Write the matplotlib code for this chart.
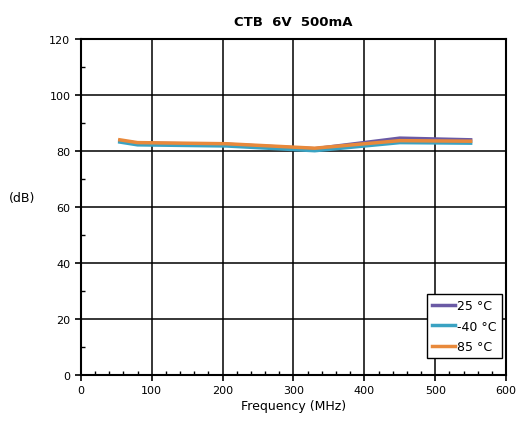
import numpy as np
import matplotlib.pyplot as plt
from matplotlib.ticker import MultipleLocator

freq = [55, 80, 205, 330, 450, 550]
ctb_25 = [83.6, 82.8, 82.4, 80.8, 84.6, 84.0]
ctb_m40 = [83.2, 82.2, 81.8, 80.1, 83.0, 82.8]
ctb_85 = [84.0, 83.0, 82.6, 81.0, 83.7, 83.5]

fig = plt.figure(figsize=(5.18, 4.31), dpi=100)
ax = fig.add_axes([0.156, 0.128, 0.821, 0.779])

ax.plot(freq, ctb_25, color='#6a5aa5', lw=2.5, label='25 \u00b0C')
ax.plot(freq, ctb_m40, color='#3aa2c2', lw=2.5, label='-40 \u00b0C')
ax.plot(freq, ctb_85, color='#e8893b', lw=2.5, label='85 \u00b0C')

ax.set_xlim(0, 600)
ax.set_ylim(0, 120)
ax.xaxis.set_major_locator(MultipleLocator(100))
ax.xaxis.set_minor_locator(MultipleLocator(20))
ax.yaxis.set_major_locator(MultipleLocator(20))
ax.yaxis.set_minor_locator(MultipleLocator(10))
ax.tick_params(which='major', direction='out', length=4, width=1.2, labelsize=8, color='black')
ax.tick_params(which='minor', direction='in', length=3, width=1.0)
ax.grid(which='major', color='black', lw=1.1)
for s in ax.spines.values():
    s.set_linewidth(1.5)

ax.set_title('CTB  6V  500mA', fontsize=9.5, fontweight='bold', pad=10)
ax.set_xlabel('Frequency (MHz)', fontsize=9, labelpad=3)
fig.text(0.042, 0.54, '(dB)', fontsize=9, ha='center', va='center')

leg = ax.legend(loc='lower right', bbox_to_anchor=(0.99, 0.05), fontsize=9, frameon=True,
                fancybox=False, edgecolor='black', handlelength=1.8, handletextpad=0.2,
                borderpad=0.4, labelspacing=0.6, borderaxespad=0)
leg.get_frame().set_linewidth(1.0)
leg.get_frame().set_alpha(1)

fig.savefig('out.png', dpi=100)
